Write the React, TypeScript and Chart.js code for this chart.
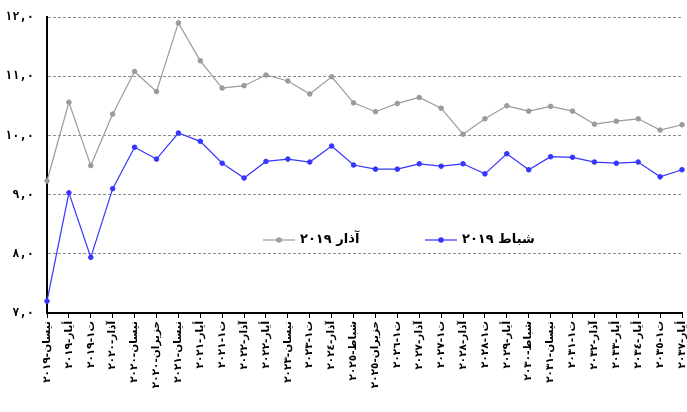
import React, { useEffect, useRef } from "react";
import { Chart, registerables } from "chart.js";

Chart.register(...registerables);

const categories: string[] = [
  "نيسان-٢٠١٩",
  "أيار-٢٠١٩",
  "ت١-٢٠١٩",
  "آذار-٢٠٢٠",
  "نيسان-٢٠٢٠",
  "حزيران-٢٠٢٠",
  "نيسان-٢٠٢١",
  "أيار-٢٠٢١",
  "ت١-٢٠٢١",
  "آذار-٢٠٢٢",
  "أيار-٢٠٢٢",
  "نيسان-٢٠٢٣",
  "ت١-٢٠٢٣",
  "آذار-٢٠٢٤",
  "شباط-٢٠٢٥",
  "حزيران-٢٠٢٥",
  "ت١-٢٠٢٦",
  "آذار-٢٠٢٧",
  "ت١-٢٠٢٧",
  "آذار-٢٠٢٨",
  "ت١-٢٠٢٨",
  "أيار-٢٠٢٩",
  "شباط-٢٠٣٠",
  "نيسان-٢٠٣١",
  "ت١-٢٠٣١",
  "آذار-٢٠٣٢",
  "أيار-٢٠٣٣",
  "أيار-٢٠٣٤",
  "ت١-٢٠٣٥",
  "أيار-٢٠٣٧",
];

const seriesNames: string[] = ["آذار ٢٠١٩", "شباط ٢٠١٩"];

const marchValues: number[] = [
  9.23, 10.56, 9.49, 10.36, 11.08, 10.74, 11.9, 11.26, 10.8, 10.84,
  11.02, 10.92, 10.7, 10.99, 10.55, 10.4, 10.54, 10.64, 10.46, 10.02,
  10.28, 10.5, 10.41, 10.49, 10.41, 10.19, 10.24, 10.28, 10.09, 10.18,
];

const febValues: number[] = [
  7.2, 9.03, 7.94, 9.1, 9.8, 9.6, 10.04, 9.9, 9.53, 9.28,
  9.56, 9.6, 9.55, 9.82, 9.5, 9.43, 9.43, 9.52, 9.48, 9.52,
  9.35, 9.69, 9.42, 9.64, 9.63, 9.55, 9.53, 9.55, 9.3, 9.42,
];

const yMin = 7;
const yMax = 12;
const yStep = 1;

const AR_DIGITS = "٠١٢٣٤٥٦٧٨٩";
const toArabic = (s: string) =>
  s.replace(/[0-9]/g, (d) => AR_DIGITS[Number(d)]).replace(".", ",");

const FONT = "'DejaVu Sans', sans-serif";
const MONO = "'DejaVu Sans Mono', 'DejaVu Sans', monospace";

const inlineLegend = {
  id: "inlineLegend",
  afterDatasetsDraw(chart: any) {
    const { ctx, chartArea } = chart;
    const y = chartArea.top + 223;
    const offsets = [216, 378];
    ctx.save();
    chart.data.datasets.forEach((ds: any, i: number) => {
      const x0 = chartArea.left + offsets[i];
      ctx.strokeStyle = ds.borderColor;
      ctx.lineWidth = 1.2;
      ctx.beginPath();
      ctx.moveTo(x0, y);
      ctx.lineTo(x0 + 32, y);
      ctx.stroke();
      ctx.fillStyle = ds.pointBackgroundColor;
      ctx.beginPath();
      ctx.arc(x0 + 16, y, 2.8, 0, Math.PI * 2);
      ctx.fill();
      ctx.fillStyle = "#000";
      ctx.font = `bold 13px ${FONT}`;
      ctx.textAlign = "left";
      ctx.textBaseline = "middle";
      ctx.fillText(ds.label, x0 + 37, y);
    });
    ctx.restore();
  },
};

export default function App() {
  const ref = useRef<HTMLCanvasElement | null>(null);

  useEffect(() => {
    if (!ref.current) return;
    const chart = new Chart(ref.current, {
      type: "line",
      data: {
        labels: categories,
        datasets: [
          {
            label: seriesNames[0],
            data: marchValues,
            borderColor: "#9a9a9a",
            backgroundColor: "#9a9a9a",
            pointBackgroundColor: "#9a9a9a",
            pointBorderColor: "#9a9a9a",
            borderWidth: 1.2,
            pointRadius: 2.3,
            pointBorderWidth: 1,
            tension: 0,
          },
          {
            label: seriesNames[1],
            data: febValues,
            borderColor: "#3535ff",
            backgroundColor: "#3535ff",
            pointBackgroundColor: "#3535ff",
            pointBorderColor: "#3535ff",
            borderWidth: 1.2,
            pointRadius: 2.3,
            pointBorderWidth: 1,
            tension: 0,
          },
        ],
      },
      options: {
        animation: false,
        responsive: true,
        maintainAspectRatio: false,
        layout: { padding: { top: 17, right: 4, left: 0, bottom: 0 } },
        plugins: {
          legend: { display: false },
          title: { display: false },
          tooltip: { enabled: false },
        },
        scales: {
          x: {
            type: "category",
            offset: false,
            afterFit: (s: any) => {
              s.height = 99;
              s.paddingLeft = 0;
              s.paddingRight = 0;
            },
            grid: {
              display: true,
              drawOnChartArea: false,
              drawTicks: true,
              tickLength: 5,
              tickColor: "#000",
              tickWidth: 1,
            },
            border: { display: true, color: "#000", width: 2 },
            ticks: {
              autoSkip: false,
              minRotation: 90,
              maxRotation: 90,
              padding: 3,
              color: "#000",
              font: { family: FONT, size: 10.5, weight: "bold" },
            },
          },
          y: {
            min: yMin,
            max: yMax,
            afterFit: (s: any) => {
              s.width = 47;
              s.paddingTop = 0;
              s.paddingBottom = 0;
            },
            grid: {
              display: true,
              drawOnChartArea: true,
              drawTicks: false,
              color: "#8c8c8c",
              lineWidth: 1,
            },
            border: { display: true, color: "#000", width: 2, dash: [3, 2] },
            ticks: {
              stepSize: yStep,
              padding: 13,
              color: "#000",
              font: { family: MONO, size: 12, weight: "bold" },
              callback: (v: any) => toArabic(Number(v).toFixed(1)),
            },
          },
        },
      },
      plugins: [inlineLegend],
    });
    return () => chart.destroy();
  }, []);

  return (
    <div
      style={{
        position: "fixed",
        top: 0,
        left: 0,
        width: 687,
        height: 412,
        background: "#fff",
      }}
    >
      <canvas ref={ref} />
    </div>
  );
}
